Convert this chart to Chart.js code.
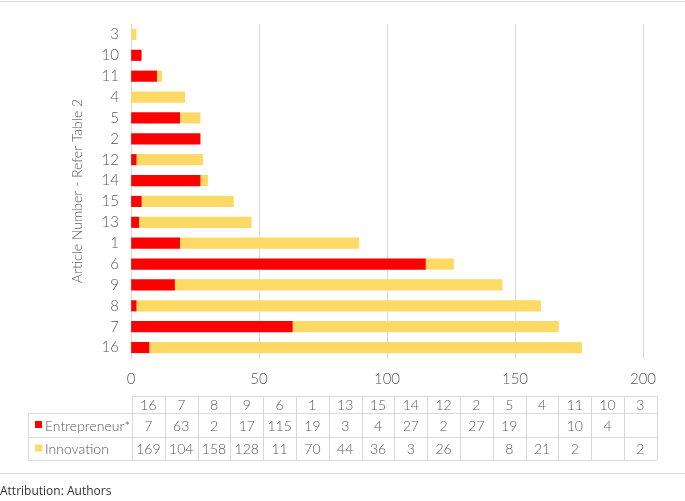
<!DOCTYPE html>
<html>
<head>
<meta charset="utf-8">
<script src="https://cdn.jsdelivr.net/npm/chart.js@4"></script>
<style>
  html, body { margin: 0; padding: 0; background: #fff; }
  #wrap { position: relative; width: 685px; height: 501px; }
</style>
</head>
<body>
<div id="wrap"><canvas id="chart" width="685" height="501"></canvas></div>
<script>
// Datos (orden de la tabla)
const articles = ['16', '7', '8', '9', '6', '1', '13', '15', '14', '12', '2', '5', '4', '11', '10', '3'];
const entrepreneur = [7, 63, 2, 17, 115, 19, 3, 4, 27, 2, 27, 19, null, 10, 4, null];
const innovation = [169, 104, 158, 128, 11, 70, 44, 36, 3, 26, null, 8, 21, 2, null, 2];
const xTicks = [0, 50, 100, 150, 200];

const RED = '#FF0000';
const GOLD = '#FFD966';
const GRID = '#D9D9D9';
const TEXT = '#595959';
const FONT = 'Lato';

// Tabla de datos debajo del gráfico
const tablePlugin = {
    id: 'dataTable',
    afterDraw(chart) {
        const ctx = chart.ctx;
        const labelLeft = 28, colX0 = 132, colW = 32.8;
        const rows = [396, 413, 437, 460];
        const right = colX0 + colW * articles.length;
        ctx.save();
        ctx.strokeStyle = GRID;
        ctx.lineWidth = 1;
        ctx.beginPath();
        // horizontales
        ctx.moveTo(colX0, rows[0] + 0.5); ctx.lineTo(right, rows[0] + 0.5);
        for (let i = 1; i < rows.length; i++) {
            ctx.moveTo(labelLeft, rows[i] + 0.5); ctx.lineTo(right, rows[i] + 0.5);
        }
        // verticales
        ctx.moveTo(labelLeft + 0.5, rows[1]); ctx.lineTo(labelLeft + 0.5, rows[3]);
        for (let c = 0; c <= articles.length; c++) {
            const x = Math.round(colX0 + c * colW) + 0.5;
            ctx.moveTo(x, rows[0]); ctx.lineTo(x, rows[3]);
        }
        ctx.stroke();

        ctx.fillStyle = TEXT;
        ctx.font = `300 14px ${FONT}`;
        ctx.textAlign = 'center';
        ctx.textBaseline = 'middle';
        const series = [articles, entrepreneur, innovation];
        series.forEach((arr, r) => {
            const y = (rows[r] + rows[r + 1]) / 2 + 1;
            arr.forEach((v, c) => {
                if (v === null) return;
                ctx.fillText(String(v), colX0 + (c + 0.5) * colW, y);
            });
        });

        // leyenda dentro de la tabla
        const legend = [['Entrepreneur*', RED], ['Innovation', GOLD]];
        ctx.textAlign = 'left';
        legend.forEach(([name, color], i) => {
            const y = (rows[i + 1] + rows[i + 2]) / 2;
            ctx.fillStyle = color;
            ctx.fillRect(35, y - 4, 7, 7);
            ctx.fillStyle = TEXT;
            ctx.fillText(name, 45, y + 1);
        });

        // líneas de marco y atribución
        ctx.fillStyle = GRID;
        ctx.fillRect(0, 1, 685, 1);
        ctx.fillRect(0, 473, 685, 1);
        ctx.fillStyle = '#333';
        ctx.font = '12px "Open Sans"';
        ctx.textBaseline = 'middle';
        ctx.fillText('Attribution: Authors', 0, 492);
        ctx.restore();
    }
};

new Chart(document.getElementById('chart'), {
    type: 'bar',
    data: {
        labels: articles,
        datasets: [
            { label: 'Entrepreneur*', data: entrepreneur, backgroundColor: RED },
            { label: 'Innovation', data: innovation, backgroundColor: GOLD }
        ]
    },
    options: {
        indexAxis: 'y',
        responsive: false,
        animation: false,
        layout: { padding: { left: 69, right: 42, top: 24, bottom: 117 } },
        plugins: {
            legend: { display: false },
            tooltip: { enabled: false }
        },
        datasets: { bar: { barThickness: 10.5 } },
        scales: {
            x: {
                stacked: true,
                min: 0,
                max: 200,
                afterBuildTicks(scale) { scale.ticks = xTicks.map(v => ({ value: v })); },
                afterFit(scale) { scale.height = 26; },
                grid: { color: GRID, drawTicks: false },
                border: { display: false },
                ticks: { color: TEXT, font: { family: FONT, size: 15, weight: '300' }, padding: 12 }
            },
            y: {
                stacked: true,
                reverse: true,
                afterFit(scale) { scale.width = 62; },
                grid: { display: false, drawTicks: false },
                border: { color: GRID },
                ticks: {
                    color: TEXT,
                    font: { family: FONT, size: 15, weight: '300' },
                    padding: 12,
                    autoSkip: false
                },
                title: {
                    display: true,
                    text: 'Article Number - Refer Table 2',
                    color: TEXT,
                    font: { family: FONT, size: 14, weight: '300' },
                    padding: 0
                }
            }
        }
    },
    plugins: [tablePlugin]
});
</script>
</body>
</html>
